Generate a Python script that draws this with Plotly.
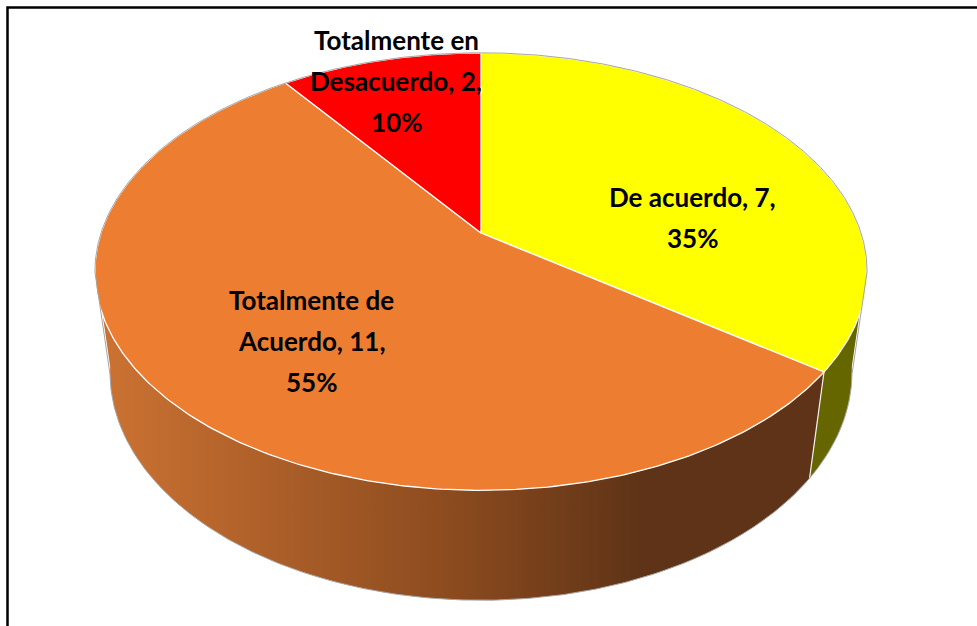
import numpy as np
import plotly.graph_objects as go

# ---- data ----
categories = ["De acuerdo", "Totalmente de Acuerdo", "Totalmente en Desacuerdo"]
category_lines = [["De acuerdo"], ["Totalmente de", "Acuerdo"], ["Totalmente en", "Desacuerdo"]]
values = [7, 11, 2]
top_colors = ["#FFFF00", "#ED7D31", "#FF0000"]
side_colors = ["#666600", "#CD7333", "#990000"]

# ---- 3D pie projection (perspective view of a tilted disc) ----
W, H = 977, 626
CX, CY = 481.0, 233.0
F, DIST = 1790.0, 4.71
ALPHA = np.radians(33.9)
DEPTH = 0.333
SA, CA = np.sin(ALPHA), np.cos(ALPHA)


def proj(theta_deg, z=0.0, r=1.0):
    t = np.radians(np.asarray(theta_deg, dtype=float))
    X, Y = r * np.cos(t), r * np.sin(t)
    v = Y * SA + z * CA
    d = Y * CA - z * SA
    return CX + F * X / (DIST + d), CY - F * v / (DIST + d)


total = sum(values)
pcts = [round(100 * v / total) for v in values]

# slice angle intervals: start at 90 deg, clockwise
intervals = []
start = 90.0
for v in values:
    span = 360.0 * v / total
    intervals.append((start - span, start))
    start -= span

# silhouette angles (extreme x of the top rim, front side)
ths = np.linspace(180, 360, 3601)
xs_top, _ = proj(ths)
TH_L = ths[np.argmin(xs_top)]
TH_R = ths[np.argmax(xs_top)]

fig = go.Figure()

# ---- side walls (front half only) ----
for i, (a0, a1) in enumerate(intervals):
    for k in (-1, 0, 1):
        lo = max(a0 + 360 * k, TH_L - 2)
        hi = min(a1 + 360 * k, TH_R + 2)
        if hi <= lo:
            continue
        t = np.linspace(lo, hi, 200)
        xt, yt = proj(t, 0.0)
        xb, yb = proj(t[::-1], -DEPTH)
        xx = np.concatenate([xt, xb, xt[:1]])
        yy = np.concatenate([yt, yb, yt[:1]])
        kw = dict(fillcolor=side_colors[i])
        if i == 1:
            kw = dict(fillgradient=dict(type="horizontal",
                                        colorscale=[[0, "#CD7333"], [0.5, "#8A4A1E"],
                                                    [0.75, "#5E3317"], [1, "#5E3317"]]))
        fig.add_trace(go.Scatter(x=xx, y=yy, mode="lines", fill="toself",
                                 line=dict(width=0, color="rgba(0,0,0,0)"),
                                 hoverinfo="skip", showlegend=False, **kw))

# white vertical edges between slices on the side
for i, (a0, a1) in enumerate(intervals):
    for ang in (a0,):
        for k in (-1, 0, 1):
            a = ang + 360 * k
            if TH_L < a < TH_R:
                x0, y0 = proj(a, 0.0)
                x1, y1 = proj(a, -DEPTH)
                fig.add_trace(go.Scatter(x=[x0, x1], y=[y0, y1], mode="lines",
                                         line=dict(color="#F2F2F2", width=1.2),
                                         hoverinfo="skip", showlegend=False))

# ---- top faces ----
for i, (a0, a1) in enumerate(intervals):
    t = np.linspace(a1, a0, 300)
    xa, ya = proj(t, 0.0)
    xc, yc = proj(0.0, 0.0, r=0.0)
    xx = np.concatenate([[xc], xa, [xc]])
    yy = np.concatenate([[yc], ya, [yc]])
    fig.add_trace(go.Scatter(x=xx, y=yy, mode="lines", fill="toself",
                             fillcolor=top_colors[i],
                             line=dict(color="#FFFFFF", width=1.3),
                             name=categories[i], hoverinfo="name", showlegend=False))

# ---- grey silhouette outline ----
t_back = np.linspace(TH_R - 360, TH_L, 400)
xb1, yb1 = proj(t_back, 0.0)
t_front = np.linspace(TH_L, TH_R, 400)
xb2, yb2 = proj(t_front, -DEPTH)
fig.add_trace(go.Scatter(x=np.concatenate([xb1, xb2, xb1[:1]]),
                         y=np.concatenate([yb1, yb2, yb1[:1]]),
                         mode="lines", line=dict(color="#A6A6A6", width=1),
                         hoverinfo="skip", showlegend=False))

# ---- data labels ----
label_pos = [(692, 197), (311, 300), (396, 40)]
LINE_GAP = 41
for i in range(len(values)):
    lines = category_lines[i][:-1] + [f"{category_lines[i][-1]}, {values[i]},", f"{pcts[i]}%"]
    lx, ly = label_pos[i]
    for j, ln in enumerate(lines):
        fig.add_annotation(x=lx, y=ly + j * LINE_GAP, text=f"<b>{ln}</b>",
                           showarrow=False, xanchor="center", yanchor="middle",
                           font=dict(family="Lato", size=26, color="#000000"))

# ---- outer frame ----
fig.add_shape(type="rect", xref="paper", yref="paper",
              x0=7.5 / W, x1=1.02, y0=-0.03, y1=1 - 7.5 / H,
              line=dict(color="#000000", width=2.5), fillcolor="rgba(0,0,0,0)")

fig.update_layout(
    width=W, height=H,
    margin=dict(l=0, r=0, t=0, b=0),
    paper_bgcolor="#FFFFFF", plot_bgcolor="#FFFFFF",
    xaxis=dict(range=[0, W], visible=False, fixedrange=True),
    yaxis=dict(range=[H, 0], visible=False, fixedrange=True),
    showlegend=False,
)

fig.write_html("out.html", config={"displayModeBar": False},
               post_script="document.body.style.margin='0';document.body.style.overflow='hidden';")
